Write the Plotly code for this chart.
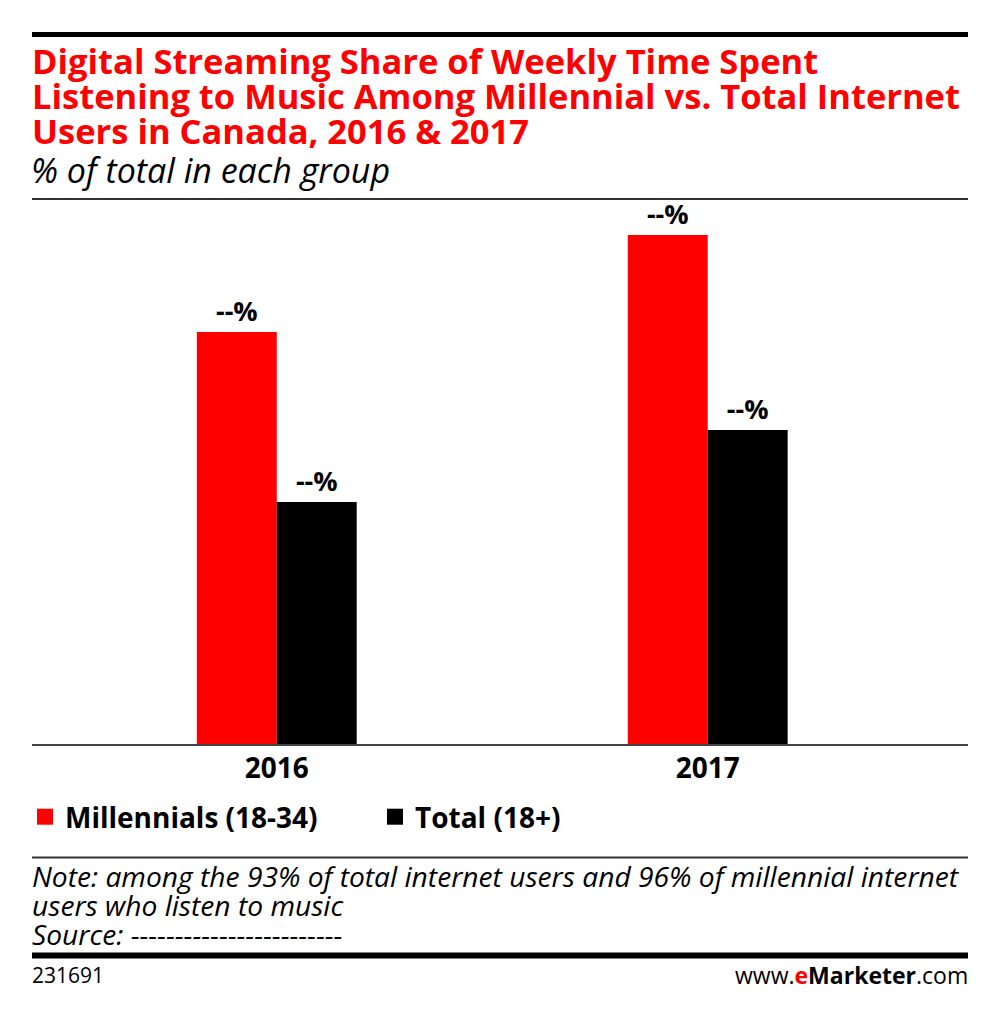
import plotly.graph_objects as go

categories = ["2016", "2017"]
millennials = [41.3, 51.0]
total = [24.3, 31.5]
value_labels_m = ["--%", "--%"]
value_labels_t = ["--%", "--%"]
series_names = ["Millennials (18-34)", "Total (18+)"]
series_colors = ["#ff0000", "#000000"]
title_lines = [
    "Digital Streaming Share of Weekly Time Spent",
    "Listening to Music Among Millennial vs. Total Internet",
    "Users in Canada, 2016 & 2017",
]
subtitle = "% of total in each group"
note_lines = [
    "Note: among the 93% of total internet users and 96% of millennial internet",
    "users who listen to music",
    "Source: ------------------------",
]
chart_id = "231691"

# page body has an 8px margin; figure is sized/offset to compensate
OFF = 8
W, H = 1000 - OFF, 1014 - OFF
PLOT_L, PLOT_R, PLOT_T, PLOT_B = 32, 968, 198, 745  # page pixel coords
L = PLOT_L - OFF
R = W - (PLOT_R - OFF)
T = PLOT_T - OFF
B = H - (PLOT_B - OFF)
PH = PLOT_B - PLOT_T
PW = PLOT_R - PLOT_L


def py(p):
    return (PLOT_B - p) / PH


def px(p):
    return (p - PLOT_L) / PW


FONT = "Open Sans, sans-serif"

fig = go.Figure()
for name, vals, labels, color in [
    (series_names[0], millennials, value_labels_m, series_colors[0]),
    (series_names[1], total, value_labels_t, series_colors[1]),
]:
    fig.add_trace(go.Bar(
        x=categories, y=vals, name=name, showlegend=False, legendgroup=name,
        marker=dict(color=color, line=dict(width=0)),
        text=labels, textposition="outside", cliponaxis=False,
        textfont=dict(family=FONT, size=27, color="#000000", weight="bold"),
        hoverinfo="skip",
    ))
# legend entries (square swatches)
for name, color in zip(series_names, series_colors):
    fig.add_trace(go.Scatter(
        x=[None], y=[None], mode="markers", name=name, legendgroup=name,
        marker=dict(symbol="square", size=16, color=color, line=dict(width=0)),
        hoverinfo="skip",
    ))

shapes = [
    dict(type="line", xref="paper", yref="paper", x0=0, x1=1, y0=py(34.5), y1=py(34.5),
         line=dict(color="#000000", width=5)),
    dict(type="line", xref="paper", yref="paper", x0=0, x1=1, y0=py(199), y1=py(199),
         line=dict(color="#333333", width=2)),
    dict(type="line", xref="paper", yref="paper", x0=0, x1=1, y0=py(745), y1=py(745),
         line=dict(color="#444444", width=2)),
    dict(type="line", xref="paper", yref="paper", x0=0, x1=1, y0=py(857.5), y1=py(857.5),
         line=dict(color="#333333", width=2)),
    dict(type="line", xref="paper", yref="paper", x0=0, x1=1, y0=py(955.5), y1=py(955.5),
         line=dict(color="#000000", width=6)),
]

annotations = []
for i, line in enumerate(title_lines):
    annotations.append(dict(
        text=f"<b>{line}</b>", xref="paper", yref="paper", x=0, y=py(35 + 35 * i),
        xanchor="left", yanchor="top", showarrow=False, align="left", xshift=-2,
        font=dict(family=FONT, size=34.5, color="#ff0000"),
    ))
annotations.append(dict(
    text=f"<i>{subtitle}</i>", xref="paper", yref="paper", x=0, y=py(145),
    xanchor="left", yanchor="top", showarrow=False, align="left", xshift=-3,
    font=dict(family=FONT, size=34, color="#000000"),
))
for i, line in enumerate(note_lines):
    annotations.append(dict(
        text=f"<i>{line}</i>", xref="paper", yref="paper", x=0, y=py(855 + 29 * i),
        xanchor="left", yanchor="top", showarrow=False, align="left", xshift=-2,
        font=dict(family=FONT, size=28.2, color="#000000"),
    ))
annotations.append(dict(
    text=chart_id, xref="paper", yref="paper", x=0, y=py(959),
    xanchor="left", yanchor="top", showarrow=False, xshift=-2,
    font=dict(family=FONT, size=21, color="#000000"),
))
annotations.append(dict(
    text="www.<b><span style='color:#ff0000'>e</span>Marketer</b>.com",
    xref="paper", yref="paper", x=1, y=py(957),
    xanchor="right", yanchor="top", showarrow=False, xshift=2,
    font=dict(family=FONT, size=23, color="#000000"),
))

fig.update_layout(
    width=W, height=H,
    margin=dict(l=L, r=R, t=T, b=B, pad=0),
    paper_bgcolor="#ffffff", plot_bgcolor="#ffffff",
    barmode="group", bargap=0.629, bargroupgap=0,
    showlegend=True,
    legend=dict(orientation="h", x=px(25), xanchor="left", y=py(792), yanchor="top",
                font=dict(family=FONT, size=28, color="#000000", weight="bold"),
                traceorder="normal", entrywidth=305, entrywidthmode="pixels",
                bgcolor="rgba(0,0,0,0)"),
    xaxis=dict(type="category", range=[-0.568, 1.604], showgrid=False, zeroline=False,
               showline=False, ticks="", fixedrange=True, ticklabelstandoff=4,
               tickfont=dict(family=FONT, size=28, color="#000000", weight="bold")),
    yaxis=dict(range=[0, 54.7], showgrid=False, zeroline=False, showline=False,
               showticklabels=False, ticks="", fixedrange=True),
    shapes=shapes, annotations=annotations,
    hovermode=False,
)

fig.write_html("out.html", config={"displayModeBar": False})
